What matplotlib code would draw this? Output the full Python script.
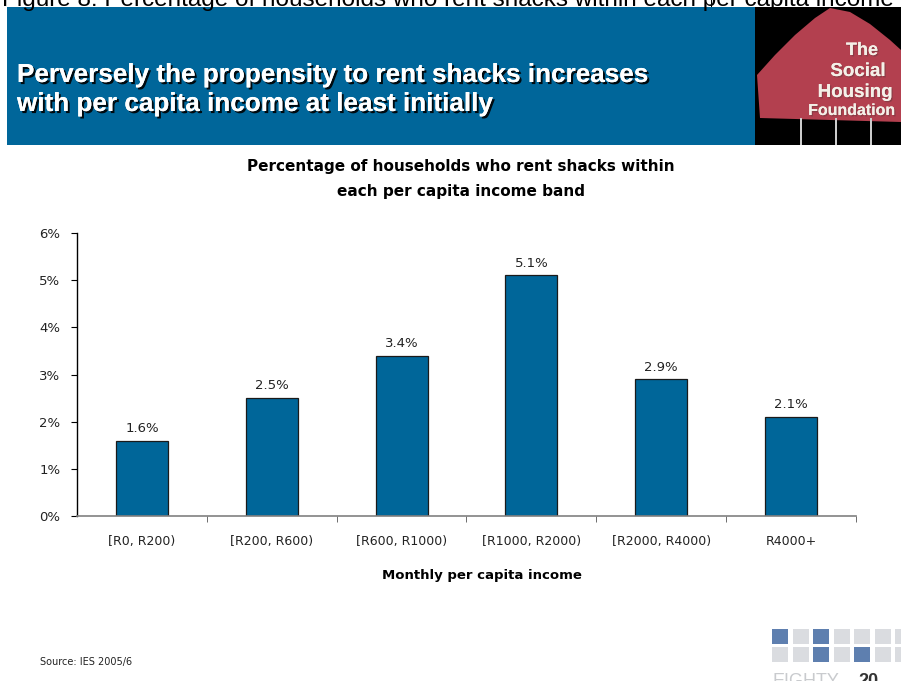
import matplotlib
matplotlib.use("Agg")
import matplotlib.pyplot as plt
from matplotlib.patches import Rectangle, Polygon
import matplotlib.patheffects as pe

# Data
categories = ["[R0, R200)", "[R200, R600)", "[R600, R1000)",
              "[R1000, R2000)", "[R2000, R4000)", "R4000+"]
shares = [1.6, 2.5, 3.4, 5.1, 2.9, 2.1]
y_ticks = [0, 1, 2, 3, 4, 5, 6]

W, H = 901, 681
BLUE = "#00669A"
BODY = "DejaVu Sans"

fig = plt.figure(figsize=(W / 100, H / 100), dpi=100)
fig.patch.set_facecolor("white")


def fx(px):
    return px / W


def fy(py):
    return 1 - py / H


# Overview text line running off the top edge
fig.text(fx(2), fy(6), "Figure 8: Percentage of households who rent shacks within each per capita income band",
         fontsize=17.5, family="Liberation Sans", color="black", va="baseline", ha="left")
fig.add_artist(Rectangle((fx(711), fy(8)), 1 / W, 8 / H, transform=fig.transFigure,
                         color="black", lw=0))

# Blue header band
fig.add_artist(Rectangle((fx(7), fy(145)), fx(755) - fx(7), (145 - 7) / H,
                         transform=fig.transFigure, color=BLUE, lw=0, zorder=1))
head_font = ["Liberation Sans Narrow", "Liberation Sans", "DejaVu Sans"]
for i, line in enumerate(["Perversely the propensity to rent shacks increases",
                          "with per capita income at least initially"]):
    fig.text(fx(17), fy(82 + i * 29), line, fontsize=18.8, fontweight="bold",
             family=head_font, color="white", va="baseline", ha="left", zorder=3,
             path_effects=[pe.withSimplePatchShadow(offset=(1.5, -1.5),
                                                     shadow_rgbFace="black", alpha=0.9),
                           pe.Normal()])

# Foundation logo panel
fig.add_artist(Rectangle((fx(755), fy(145)), fx(901) - fx(755), (145 - 7) / H,
                         transform=fig.transFigure, color="black", lw=0, zorder=1))
house = [(757, 75), (775, 55), (795, 35), (815, 18), (830, 8), (850, 12),
         (870, 24), (890, 40), (901, 50), (901, 122), (760, 118)]
fig.add_artist(Polygon([(fx(x), fy(y)) for x, y in house], closed=True,
                       transform=fig.transFigure, color="#B3404F", lw=0, zorder=2))
for x0 in (800, 835, 870):
    fig.add_artist(Rectangle((fx(x0), fy(145)), 2 / W, 27 / H, transform=fig.transFigure,
                             color="#cccccc", lw=0, zorder=2))
logo_lines = [("The", 55, 13, 862), ("Social", 76, 13.5, 858),
              ("Housing", 97, 13.5, 855), ("Foundation", 115, 11.5, 852)]
for txt, yy, fs, xx in logo_lines:
    fig.text(fx(xx), fy(yy), txt, fontsize=fs, fontweight="bold", family=head_font,
             color="#f4f0e8", ha="center", va="baseline", zorder=3,
             path_effects=[pe.withSimplePatchShadow(offset=(1, -1), shadow_rgbFace="#333333"),
                           pe.Normal()])

# Chart title
fig.text(fx(461), fy(171), "Percentage of households who rent shacks within",
         fontsize=11, fontweight="bold", family=BODY, ha="center", va="baseline")
fig.text(fx(461), fy(196), "each per capita income band",
         fontsize=11, fontweight="bold", family=BODY, ha="center", va="baseline")

# Bar chart
ax = fig.add_axes([fx(77), fy(516), fx(856) - fx(77), (516 - 233) / H])
xs = list(range(len(categories)))
ax.bar(xs, shares, width=0.4, color="#006699", edgecolor="#1a1a1a", linewidth=0.9, zorder=2)
for x, v in zip(xs, shares):
    ax.text(x, v + 0.12, f"{v:.1f}%", ha="center", va="bottom", fontsize=9.5,
            family=BODY, color="#222222")

ax.set_xlim(-0.5, len(categories) - 0.5)
ax.set_ylim(0, 6)
ax.set_yticks(y_ticks)
ax.set_yticklabels([f"{t}%" for t in y_ticks], fontsize=9.5, family=BODY, color="#222222")
ax.set_xticks(xs)
ax.set_xticklabels(categories, fontsize=9, family=BODY, color="#222222")
ax.set_xticks([i + 0.5 for i in range(len(categories))], minor=True)
ax.tick_params(axis="x", which="major", length=0, pad=14)
ax.tick_params(axis="x", which="minor", length=4, color="#555555", direction="out")
ax.tick_params(axis="y", length=4, color="black", pad=8)
for s in ("top", "right"):
    ax.spines[s].set_visible(False)
ax.spines["left"].set_color("black")
ax.spines["left"].set_linewidth(1.0)
ax.spines["bottom"].set_color("#808080")
ax.spines["bottom"].set_linewidth(1.2)
ax.set_facecolor("white")

fig.text(fx(482), fy(579), "Monthly per capita income", fontsize=9.5, fontweight="bold",
         family=BODY, ha="center", va="baseline")

# Source note
fig.text(fx(40), fy(665), "Source: IES 2005/6", fontsize=7, family=BODY,
         ha="left", va="baseline", color="#222222")

# EIGHTY20 logo tiles
tile_rows = [["b", "l", "b", "l", "l", "l", "l"],
             ["l", "l", "b", "l", "b", "l", "l"]]
tile_colors = {"b": "#5E7FAF", "l": "#DADCE0"}
for r, row in enumerate(tile_rows):
    for c, key in enumerate(row):
        x0 = 772 + c * 20.5
        y0 = 629 + r * 18
        fig.add_artist(Rectangle((fx(x0), fy(y0 + 15)), 16 / W, 15 / H,
                                 transform=fig.transFigure, color=tile_colors[key], lw=0))
fig.text(fx(772), fy(686), "EIGHTY", fontsize=13, family="Liberation Sans",
         color="#C9CBCE", ha="left", va="baseline")
fig.text(fx(858), fy(686), "20", fontsize=13, fontweight="bold", family="Liberation Sans",
         color="#333333", ha="left", va="baseline")

fig.savefig("out.png", dpi=100, facecolor="white")
